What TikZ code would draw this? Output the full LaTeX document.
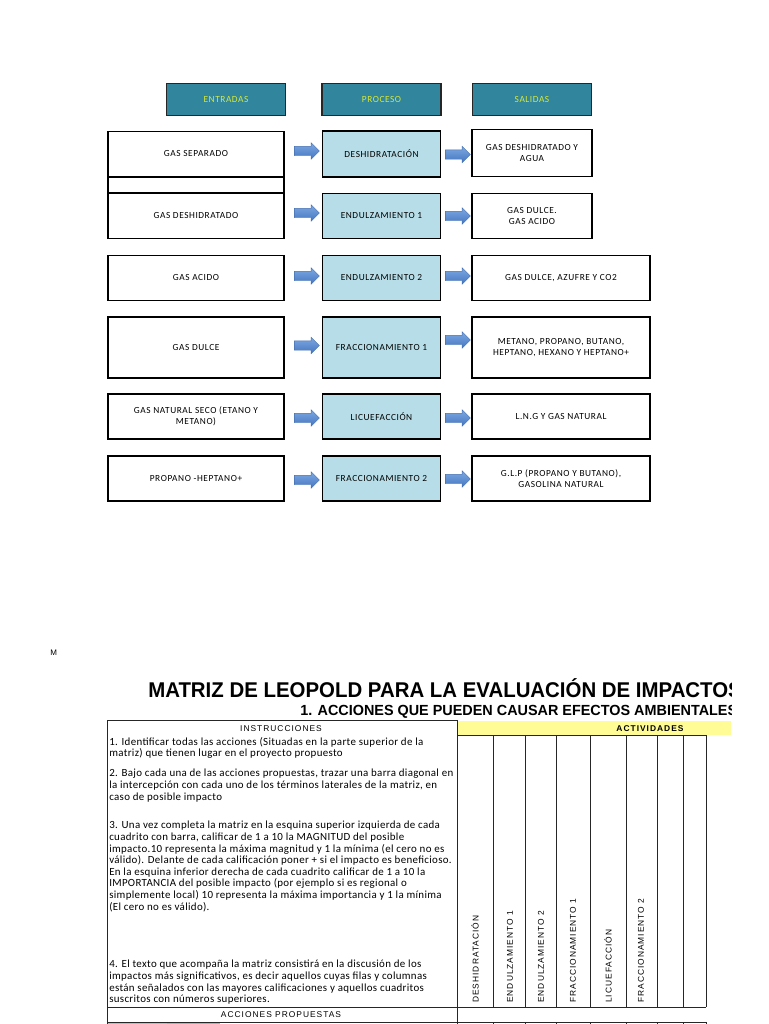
\documentclass[tikz,border=0pt]{standalone}
\usepackage{fontspec}
\setmainfont{Carlito}
\newfontfamily\calsp[LetterSpace=6]{Carlito}
\newfontfamily\instf[LetterSpace=3]{Carlito}
\newfontfamily\arisp[LetterSpace=12]{Liberation Sans}
\newfontfamily\arialf{Liberation Sans}
\usetikzlibrary{shapes.arrows}
\definecolor{hdrfill}{RGB}{49,133,156}
\definecolor{hdrtext}{RGB}{214,232,60}
\definecolor{procblue}{RGB}{183,222,232}
\definecolor{arrtop}{RGB}{125,168,226}
\definecolor{arrbot}{RGB}{68,118,192}
\definecolor{arrline}{RGB}{70,112,175}
\definecolor{yelbar}{RGB}{255,252,150}
\definecolor{pinkc}{RGB}{225,165,200}
\definecolor{greenc}{RGB}{165,200,85}
\begin{document}
\begin{tikzpicture}[x=0.75pt,y=-0.75pt,
  sz/.style 2 args={minimum width=#1*0.75pt, minimum height=#2*0.75pt},
  hdr/.style={draw=black!85, line width=0.9pt, fill=hdrfill, text=hdrtext, inner sep=0pt, sz={119}{32}, font=\calsp\fontsize{7}{8}\selectfont},
  ibox/.style={draw=black, line width=1.4pt, fill=white, inner sep=0pt, align=center, font=\calsp\fontsize{7}{8.25}\selectfont},
  pbox/.style={ibox, fill=procblue},
  arr/.style={single arrow, single arrow head extend=3.5*0.75pt, minimum height=25*0.75pt, inner xsep=0pt, inner ysep=4.5*0.75pt, top color=arrtop, bottom color=arrbot, draw=arrline, line width=0.3pt},
  tline/.style={draw=black!85, line width=0.7pt},
  para/.style={anchor=north west, inner sep=0pt, align=left, font=\instf\fontsize{8.2}{8.7}\selectfont},
  collab/.style={rotate=90, anchor=west, inner sep=0pt, font=\arisp\fontsize{6.3}{7}\selectfont}
]
\fill[white] (0,0) rectangle (768,1024);
\useasboundingbox (0,0) rectangle (768,1024);

% headers
\node[hdr] (hE) at (226,99.5) {ENTRADAS};
\node[hdr] (hP) at (381.5,99.5) {PROCESO};
\node[hdr] (hS) at (532,99.5) {SALIDAS};

% row 1
\node[ibox, sz={176}{45}] (i1) at (196,154) {GAS SEPARADO};
\node[ibox, sz={176}{16}] (strip) at (196,185) {};
\node[pbox, sz={118}{46}] (p1) at (381.5,154) {DESHIDRATACIÓN};
\node[ibox, sz={120}{47}] (o1) at (532,153) {GAS DESHIDRATADO Y\\AGUA};
% row 2
\node[ibox, sz={176}{45}] (i2) at (196,216) {GAS DESHIDRATADO};
\node[pbox, sz={118}{45}] (p2) at (381.5,216) {ENDULZAMIENTO 1};
\node[ibox, sz={120}{45}] (o2) at (532,216) {GAS DULCE.\\GAS ACIDO};
% row 3
\node[ibox, sz={176}{45}] (i3) at (196,278) {GAS ACIDO};
\node[pbox, sz={118}{45}] (p3) at (381.5,278) {ENDULZAMIENTO 2};
\node[ibox, sz={178}{45}] (o3) at (561,278) {GAS DULCE, AZUFRE Y CO2};
% row 4
\node[ibox, sz={176}{61}] (i4) at (196,347.5) {GAS DULCE};
\node[pbox, sz={118}{61}] (p4) at (381.5,347.5) {FRACCIONAMIENTO 1};
\node[ibox, sz={178}{61}] (o4) at (561,347.5) {METANO, PROPANO, BUTANO,\\HEPTANO, HEXANO Y HEPTANO+};
% row 5
\node[ibox, sz={176}{45}] (i5) at (196,416.5) {GAS NATURAL SECO (ETANO Y\\METANO)};
\node[pbox, sz={118}{45}] (p5) at (381.5,416.5) {LICUEFACCIÓN};
\node[ibox, sz={178}{45}] (o5) at (561,416.5) {L.N.G Y GAS NATURAL};
% row 6
\node[ibox, sz={176}{45}] (i6) at (196,478.5) {PROPANO -HEPTANO+};
\node[pbox, sz={118}{45}] (p6) at (381.5,478.5) {FRACCIONAMIENTO 2};
\node[ibox, sz={178}{45}] (o6) at (561,478.5) {G.L.P (PROPANO Y BUTANO),\\GASOLINA NATURAL};

% arrows
\node[arr] (a1l) at (304.5,151) {};
\node[arr] (a1r) at (455.5,154.5) {};
\node[arr] (a2l) at (304.5,213) {};
\node[arr] (a2r) at (455.5,216) {};
\node[arr] (a3l) at (304.5,276) {};
\node[arr] (a3r) at (455.5,276) {};
\node[arr] (a4l) at (304.5,345.5) {};
\node[arr] (a4r) at (455.5,340) {};
\node[arr] (a5l) at (304.5,418) {};
\node[arr] (a5r) at (455.5,418) {};
\node[arr] (a6l) at (304.5,480) {};
\node[arr] (a6r) at (455.5,479) {};

% ---- matrix part ----
\node[anchor=base west, inner sep=0pt, font=\arialf\fontsize{6}{7}\selectfont] (mm) at (50,655) {M};

\begin{scope}
\clip (0,0) rectangle (731,1024);
\node[anchor=base west, inner sep=0pt, font=\arialf\bfseries\fontsize{16}{18}\selectfont] (title) at (148,697)
  {\scalebox{0.957}[1]{MATRIZ DE LEOPOLD PARA LA EVALUACIÓN DE IMPACTOS}};
\node[anchor=base west, inner sep=0pt, font=\arialf\bfseries\fontsize{11}{12}\selectfont] (sub) at (300,715)
  {\scalebox{0.982}[1]{1. ACCIONES QUE PUEDEN CAUSAR EFECTOS AMBIENTALES}};
\fill[yelbar] (458,721) rectangle (731,735);
\end{scope}
\node[anchor=base, inner sep=0pt, font=\arisp\bfseries\fontsize{6.3}{7}\selectfont] (act) at (650,731) {ACTIVIDADES};

% table lines
\draw[tline] (107,720) -- (457,720);
\draw[tline] (107,720) -- (107,1024);
\draw[tline] (457,720) -- (457,1024);
\draw[tline] (457,735) -- (706,735);
\foreach \cx in {493,525,556,590,626,657,683,706} {
  \draw[tline] (\cx,735) -- (\cx,1007);
  \draw[tline] (\cx,1022) -- (\cx,1024);
}
\draw[tline] (107,1007) -- (706,1007);
\draw[tline] (107,1022) -- (706,1022);
\fill[pinkc] (108,1022.5) rectangle (167,1024);
\fill[greenc] (167,1022.5) rectangle (220,1024);

\node[anchor=base, inner sep=0pt, font=\arisp\fontsize{6.3}{7}\selectfont] (instr) at (281,731) {INSTRUCCIONES};
\node[anchor=base, inner sep=0pt, font=\arisp\fontsize{6.3}{7}\selectfont] (accp) at (281,1017.5) {ACCIONES PROPUESTAS};

\node[para] (t1) at (109,737) {1. Identificar todas las acciones (Situadas en la parte superior de la\\matriz) que tienen lugar en el proyecto propuesto};
\node[para] (t2) at (109,769) {2. Bajo cada una de las acciones propuestas, trazar una barra diagonal en\\la intercepción con cada uno de los términos laterales de la matriz, en\\caso de posible impacto};
\node[para] (t3) at (109,821) {3. Una vez completa la matriz en la esquina superior izquierda de cada\\cuadrito con barra, calificar de 1 a 10 la MAGNITUD del posible\\impacto.10 representa la máxima magnitud y 1 la mínima (el cero no es\\válido). Delante de cada calificación poner + si el impacto es beneficioso.\\En la esquina inferior derecha de cada cuadrito calificar de 1 a 10 la\\IMPORTANCIA del posible impacto (por ejemplo si es regional o\\simplemente local) 10 representa la máxima importancia y 1 la mínima\\(El cero no es válido).};
\node[para] (t4) at (109,960) {4. El texto que acompaña la matriz consistirá en la discusión de los\\impactos más significativos, es decir aquellos cuyas filas y columnas\\están señalados con las mayores calificaciones y aquellos cuadritos\\suscritos con números superiores.};

% column labels
\node[collab] (c1) at (475,1003) {DESHIDRATACIÓN};
\node[collab] (c2) at (510,1003) {ENDULZAMIENTO 1};
\node[collab] (c3) at (541,1003) {ENDULZAMIENTO 2};
\node[collab] (c4) at (573,1003) {FRACCIONAMIENTO 1};
\node[collab] (c5) at (608,1003) {LICUEFACCIÓN};
\node[collab] (c6) at (641,1003) {FRACCIONAMIENTO 2};
\end{tikzpicture}
\end{document}
